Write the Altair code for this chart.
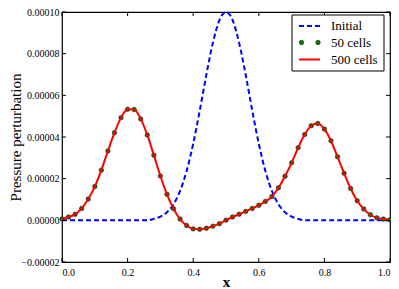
import altair as alt
import pandas as pd

# ---- data (pressure in units of 1e-5) ----
x_grid = [round(0.02 * i, 2) for i in range(51)]

initial_p = [0, 0, 0, 0, 0, 0, 0, 0, 0, 0, 0, 0, 0, 0,
             0.07, 0.18, 0.39, 0.77, 1.41, 2.37, 3.68, 5.27, 6.98, 8.52, 9.61,
             10.0,
             9.61, 8.52, 6.98, 5.27, 3.68, 2.37, 1.41, 0.77, 0.39, 0.18, 0.07,
             0, 0, 0, 0, 0, 0, 0, 0, 0, 0, 0, 0, 0, 0]

cells50_p = [0.07, 0.16, 0.29, 0.57, 1.02, 1.62, 2.41, 3.33, 4.21, 4.93,
             5.33, 5.32, 4.87, 4.10, 3.13, 2.13, 1.25, 0.56, 0.06, -0.25,
             -0.41, -0.43, -0.38, -0.28, -0.16, 0.01, 0.16, 0.29, 0.43, 0.57,
             0.72, 0.91, 1.14, 1.56, 2.12, 2.76, 3.49, 4.12, 4.54, 4.65,
             4.38, 3.82, 3.05, 2.26, 1.53, 0.94, 0.54, 0.27, 0.12, 0.06, 0.03]

x_ticks = [0.0, 0.2, 0.4, 0.6, 0.8, 1.0]
y_ticks = [-0.00002, 0.0, 0.00002, 0.00004, 0.00006, 0.00008, 0.0001]

legend_labels = ["Initial", "50 cells", "500 cells"]

scale = 1e-5
df_init = pd.DataFrame({"x": x_grid, "p": [v * scale for v in initial_p]})
df_50 = pd.DataFrame({"x": x_grid, "p": [v * scale for v in cells50_p]})
df_xt = pd.DataFrame({"x": x_ticks})
df_yt = pd.DataFrame({"p": y_ticks})

W, H = 328, 250
FONT = "Liberation Serif, DejaVu Serif, serif"

xs = alt.Scale(domain=[0, 1], nice=False, zero=False)
ys = alt.Scale(domain=[-0.00002, 0.0001], nice=False, zero=False)

x_axis = alt.Axis(values=x_ticks, format=".1f", tickSize=0, domain=False, grid=False,
                  labelPadding=5, labelFontSize=10, labelFont=FONT, labelColor="black",
                  title="x", titleFont=FONT, titleFontSize=15, titleFontWeight="bold",
                  titleColor="black", titleY=19, titleBaseline="middle")
y_axis = alt.Axis(values=y_ticks, format=".5f", tickSize=0, domain=False, grid=False,
                  labelPadding=3, labelFontSize=10, labelFont=FONT, labelColor="black",
                  title="Pressure perturbation", titleFont=FONT, titleFontSize=15,
                  titleFontWeight="normal", titleColor="black",
                  titleX=-47, titleBaseline="middle")

X = alt.X("x:Q", scale=xs, axis=x_axis)
Y = alt.Y("p:Q", scale=ys, axis=y_axis)

init_line = alt.Chart(df_init).mark_line(
    color="#0000ff", strokeWidth=2, strokeDash=[5, 3], interpolate="monotone"
).encode(x=X, y=Y)

pts = alt.Chart(df_50).mark_point(
    filled=True, size=20, fill="#007f00", stroke="black", strokeWidth=0.5, opacity=1
).encode(x=X, y=Y)

red_line = alt.Chart(df_50).mark_line(
    color="#ff0000", strokeWidth=2, interpolate="monotone"
).encode(x=X, y=Y)

# inward tick marks on all four sides
tk = dict(color="black", strokeWidth=1)
xt_bottom = alt.Chart(df_xt).mark_rule(**tk).encode(x=X, y=alt.value(H), y2=alt.value(H - 4))
xt_top = alt.Chart(df_xt).mark_rule(**tk).encode(x=X, y=alt.value(0), y2=alt.value(4))
yt_left = alt.Chart(df_yt).mark_rule(**tk).encode(y=Y, x=alt.value(0), x2=alt.value(4))
yt_right = alt.Chart(df_yt).mark_rule(**tk).encode(y=Y, x=alt.value(W), x2=alt.value(W - 4))

# legend (drawn as decoration in pixel space)
LX0, LX1, LY0, LY1 = 230, 322, 3, 59
one = pd.DataFrame({"a": [0]})
leg_box = alt.Chart(one).mark_rect(
    fill="white", stroke="black", strokeWidth=1
).encode(x=alt.value(LX0), x2=alt.value(LX1), y=alt.value(LY0), y2=alt.value(LY1))

row_y = [14, 30.5, 47.5]
leg_init = alt.Chart(one).mark_rule(
    color="#0000ff", strokeWidth=2, strokeDash=[5, 3]
).encode(x=alt.value(237), x2=alt.value(258), y=alt.value(row_y[0]))
leg_red = alt.Chart(one).mark_rule(
    color="#ff0000", strokeWidth=2
).encode(x=alt.value(237), x2=alt.value(258), y=alt.value(row_y[2]))
leg_dot1 = alt.Chart(one).mark_point(
    filled=True, size=20, fill="#007f00", stroke="black", strokeWidth=0.5, opacity=1
).encode(x=alt.value(239.5), y=alt.value(row_y[1]))
leg_dot2 = alt.Chart(one).mark_point(
    filled=True, size=20, fill="#007f00", stroke="black", strokeWidth=0.5, opacity=1
).encode(x=alt.value(256), y=alt.value(row_y[1]))

leg_texts = [
    alt.Chart(pd.DataFrame({"label": [lab]})).mark_text(
        align="left", baseline="middle", font=FONT, fontSize=13, color="black"
    ).encode(text="label:N", x=alt.value(269), y=alt.value(yy))
    for lab, yy in zip(legend_labels, row_y)
]

chart = alt.layer(
    init_line, pts, red_line,
    xt_bottom, xt_top, yt_left, yt_right,
    leg_box, leg_init, leg_dot1, leg_dot2, leg_red, *leg_texts
).properties(
    width=W, height=H,
    padding={"left": 54, "top": 4, "right": 1, "bottom": 27},
    autosize=alt.AutoSizeParams(type="none"),
).configure_view(stroke="black", strokeWidth=1.2)

chart.save("out.html", embed_options={"renderer": "svg", "actions": False})
